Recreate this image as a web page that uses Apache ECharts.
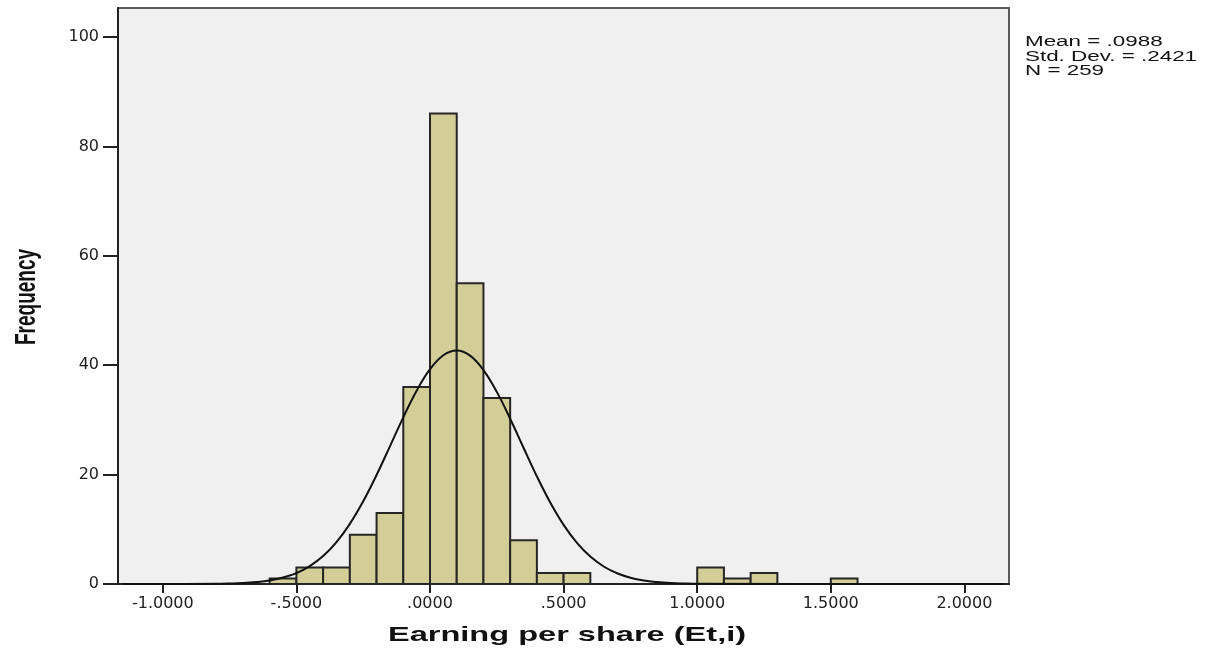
<!DOCTYPE html>
<html>
<head>
<meta charset="utf-8">
<script src="https://cdn.jsdelivr.net/npm/echarts@6/dist/echarts.min.js"></script>
<style>
  html, body { margin: 0; padding: 0; background: #fff; }
  #chart { width: 1216px; height: 653px; }
</style>
</head>
<body>
<div id="chart"></div>
<script>
// histogram bins (lower edge, width 0.1) and counts
var binLow = [-0.6, -0.5, -0.4, -0.3, -0.2, -0.1, 0.0, 0.1, 0.2, 0.3, 0.4, 0.5, 1.0, 1.1, 1.2, 1.5];
var binCount = [1, 3, 3, 9, 13, 36, 86, 55, 34, 8, 2, 2, 3, 1, 2, 1];
var binWidth = 0.1;

// normal curve
var curveX = [-1.15, -0.8, -0.75, -0.7, -0.65, -0.6, -0.55, -0.5, -0.45, -0.4, -0.35, -0.3, -0.25, -0.2, -0.15, -0.1, -0.05,
  0.0, 0.05, 0.1, 0.15, 0.2, 0.25, 0.3, 0.35, 0.4, 0.45, 0.5, 0.55, 0.6, 0.65, 0.7, 0.75, 0.8, 0.85, 0.9, 0.95, 1.0, 2.15];
var curveY = [0, 0.04, 0.09, 0.18, 0.36, 0.66, 1.18, 2.0, 3.27, 5.1, 7.65, 10.99, 15.11, 19.92, 25.17, 30.47, 35.33,
  39.27, 41.82, 42.68, 41.74, 39.11, 35.12, 30.22, 24.91, 19.68, 14.9, 10.81, 7.52, 5.01, 3.2, 1.96, 1.15, 0.64, 0.35, 0.18, 0.09, 0.04, 0];

var xTicks = [-1, -0.5, 0, 0.5, 1, 1.5, 2];
var yTicks = [0, 20, 40, 60, 80, 100];

var statsLines = ['Mean = .0988', 'Std. Dev. = .2421', 'N = 259'];

var barData = binLow.map(function (lo, i) { return [lo, lo + binWidth, binCount[i]]; });
var curveData = curveX.map(function (x, i) { return [x, curveY[i]]; });

function fmtX(v) {
    return v.toFixed(4).replace(/^(-?)0\./, '$1.');
}

var chart = echarts.init(document.getElementById('chart'));
chart.setOption({
    backgroundColor: '#ffffff',
    animation: false,
    grid: {
        left: 118, right: 207, top: 8, bottom: 69,
        show: true,
        backgroundColor: '#f0f0f0',
        borderColor: '#5a5a5a',
        borderWidth: 2
    },
    xAxis: {
        type: 'value',
        min: -1.1677,
        max: 2.1669,
        splitLine: { show: false },
        axisLine: { show: true, onZero: false, lineStyle: { color: '#222', width: 2 } },
        axisTick: { show: true, customValues: xTicks, length: 9, lineStyle: { color: '#222', width: 2 } },
        axisLabel: {
            customValues: xTicks,
            formatter: fmtX,
            margin: 12,
            color: '#222',
            fontFamily: 'DejaVu Sans',
            fontSize: 16
        }
    },
    yAxis: {
        type: 'value',
        min: 0,
        max: 105.3,
        splitLine: { show: false },
        axisLine: { show: true, onZero: false, lineStyle: { color: '#222', width: 2 } },
        axisTick: { show: true, customValues: yTicks, length: 15, lineStyle: { color: '#222', width: 2 } },
        axisLabel: {
            customValues: yTicks,
            margin: 19,
            color: '#222',
            fontFamily: 'DejaVu Sans',
            fontSize: 16
        }
    },
    graphic: [
        {
            type: 'text',
            x: 567, y: 635,
            scaleX: 1.55,
            style: {
                text: 'Earning per share (Et,i)',
                font: 'bold 21px "Liberation Sans"',
                fill: '#111',
                textAlign: 'center',
                textVerticalAlign: 'middle'
            }
        },
        {
            type: 'text',
            x: 27, y: 297,
            rotation: Math.PI / 2,
            scaleY: 1.6,
            style: {
                text: 'Frequency',
                font: 'bold 19px "Liberation Sans"',
                fill: '#111',
                textAlign: 'center',
                textVerticalAlign: 'middle'
            }
        },
        {
            type: 'text',
            x: 1025, y: 35,
            scaleX: 1.6,
            style: {
                text: statsLines.join('\n'),
                font: '14px "Liberation Sans"',
                lineHeight: 14.5,
                fill: '#111',
                textAlign: 'left',
                textVerticalAlign: 'top'
            }
        }
    ],
    series: [
        {
            type: 'custom',
            data: barData,
            encode: { x: [0, 1], y: 2 },
            renderItem: function (params, api) {
                var p0 = api.coord([api.value(0), api.value(2)]);
                var p1 = api.coord([api.value(1), 0]);
                return {
                    type: 'rect',
                    shape: { x: p0[0], y: p0[1], width: p1[0] - p0[0], height: p1[1] - p0[1] },
                    style: { fill: '#d3ce97', stroke: '#262626', lineWidth: 2 }
                };
            }
        },
        {
            type: 'line',
            data: curveData,
            smooth: 0.4,
            symbol: 'none',
            lineStyle: { color: '#111', width: 2 },
            z: 5
        }
    ]
});
</script>
</body>
</html>
